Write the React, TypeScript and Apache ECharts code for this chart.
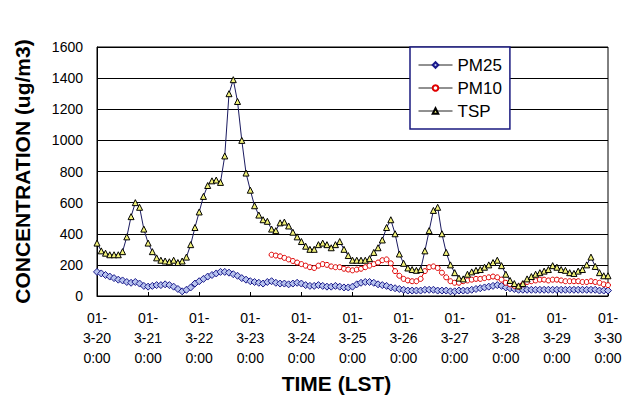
import React, { useEffect, useRef } from "react";
import * as echarts from "echarts";

// Sampling step of the series (hours), starting at 01-3-20 0:00
const HOUR_STEP = 2;
const DAY_LABELS = ["3-20", "3-21", "3-22", "3-23", "3-24", "3-25", "3-26", "3-27", "3-28", "3-29", "3-30"];
const Y_TICKS = [0, 200, 400, 600, 800, 1000, 1200, 1400, 1600];

const PM25 = [
  155, 145, 135, 125, 115, 105, 100, 90, 85, 90, 80, 65,
  60, 65, 70, 70, 75, 70, 60, 45, 30, 40, 55, 80,
  95, 110, 125, 135, 145, 155, 155, 150, 140, 130, 115, 105,
  95, 90, 85, 80, 90, 95, 85, 80, 80, 75, 80, 85,
  80, 70, 65, 65, 70, 65, 60, 60, 65, 60, 55, 55,
  60, 75, 85, 90, 90, 85, 75, 70, 65, 55, 50, 45,
  40, 35, 35, 35, 35, 40, 40, 40, 35, 35, 35, 30,
  30, 35, 35, 35, 40, 45, 50, 55, 60, 65, 70, 65,
  55, 50, 45, 40, 40, 40, 40, 40, 40, 40, 40, 40,
  40, 40, 40, 40, 40, 40, 40, 40, 40, 40, 35, 35,
  35,
];

const PM10: (number | null)[] = [
  null, null, null, null, null, null, null, null, null, null, null, null,
  null, null, null, null, null, null, null, null, null, null, null, null,
  null, null, null, null, null, null, null, null, null, null, null, null,
  null, null, null, null, null, 265, 260, 255, 245, 235, 225, 215,
  205, 195, 185, 180, 195, 205, 200, 190, 185, 185, 175, 170,
  165, 170, 175, 185, 195, 205, 215, 230, 235, 210, 160, 130,
  110, 100, 95, 95, 110, 160, 185, 190, 180, 150, 120, 95,
  85, 85, 95, 100, 105, 110, 110, 115, 120, 125, 120, 105,
  85, 75, 65, 60, 75, 90, 95, 100, 105, 105, 100, 105,
  105, 100, 95, 95, 95, 95, 90, 90, 95, 90, 85, 75,
  70,
];

const TSP = [
  340, 290, 275, 265, 265, 265, 285, 380, 510, 600, 570, 430,
  340, 285, 245, 230, 225, 220, 230, 215, 225, 250, 330, 440,
  540, 640, 710, 740, 745, 730, 900, 1300, 1390, 1250, 1000, 790,
  680, 580, 520, 490, 480, 430, 420, 470, 475, 450, 410, 380,
  350, 320, 300, 300, 330, 340, 330, 310, 330, 350, 300, 260,
  230, 230, 230, 230, 240, 280, 310, 360, 440, 490, 400, 270,
  210, 180, 170, 165, 170, 290, 420, 550, 570, 400, 280, 200,
  150, 115, 110, 140, 155, 165, 170, 185, 200, 215, 230, 195,
  140, 100, 80, 65, 80, 110, 125, 140, 150, 160, 170, 195,
  185, 170, 165, 150, 145, 160, 170, 200, 250, 190, 150, 130,
  130,
];

const toPairs = (arr: (number | null)[]) => arr.map((v, i) => [i * HOUR_STEP, v]);

const FONT = "'Liberation Sans', Arial, sans-serif";

export default function App() {
  const ref = useRef<HTMLDivElement>(null);
  useEffect(() => {
    if (!ref.current) return;
    const chart = echarts.init(ref.current, null, { renderer: "svg" });
    chart.setOption({
      animation: false,
      backgroundColor: "#ffffff",
      textStyle: { fontFamily: FONT },
      grid: {
        left: 97,
        right: 21,
        top: 47,
        bottom: 109,
        show: true,
        borderColor: "#000",
        borderWidth: 1,
        backgroundColor: "#fff",
      },
      legend: {
        orient: "vertical",
        left: 410,
        top: 47,
        padding: [9, 8, 9, 8],
        itemGap: 5,
        itemWidth: 34,
        itemHeight: 7,
        backgroundColor: "#fff",
        borderColor: "#1a1a80",
        borderWidth: 1.5,
        borderRadius: 0,
        lineStyle: { color: "#222", width: 1 },
        textStyle: { fontFamily: FONT, fontSize: 17, color: "#000", lineHeight: 18 },
        data: ["PM25", "PM10", "TSP"],
      },
      xAxis: {
        type: "value",
        min: 0,
        max: 240,
        interval: 24,
        name: "TIME (LST)",
        nameLocation: "middle",
        nameGap: 75,
        nameTextStyle: { fontSize: 21, fontWeight: "bold", color: "#000", padding: [0, 32, 0, 0], fontFamily: FONT },
        axisLine: { show: true, lineStyle: { color: "#000", width: 1 } },
        axisTick: { show: true, inside: true, length: 4, lineStyle: { color: "#000" } },
        splitLine: { show: false },
        axisLabel: {
          color: "#000",
          fontSize: 14,
          lineHeight: 20,
          margin: 12,
          formatter: (v: number) => {
            const idx = Math.round(v / 24);
            return DAY_LABELS[idx] !== undefined ? `01-\n${DAY_LABELS[idx]}\n0:00` : "";
          },
        },
      },
      yAxis: {
        type: "value",
        min: Y_TICKS[0],
        max: Y_TICKS[Y_TICKS.length - 1],
        interval: 200,
        name: "CONCENTRATION (ug/m3)",
        nameLocation: "middle",
        nameRotate: 90,
        nameGap: 64,
        nameTextStyle: { fontSize: 21, fontWeight: "bold", color: "#000", fontFamily: FONT },
        axisLine: { show: true, lineStyle: { color: "#000", width: 1 } },
        axisTick: { show: false },
        splitLine: { show: true, lineStyle: { color: "#000", width: 1 } },
        axisLabel: { color: "#000", fontSize: 14, margin: 14, formatter: (v: number) => String(v) },
      },
      series: [
        {
          name: "PM25",
          type: "line",
          data: toPairs(PM25),
          symbol: "diamond",
          symbolSize: 7,
          showAllSymbol: true,
          lineStyle: { color: "#1a1a8c", width: 1 },
          itemStyle: { color: "#b8c4ee", borderColor: "#1a1a8c", borderWidth: 1 },
          z: 3,
        },
        {
          name: "PM10",
          type: "line",
          data: toPairs(PM10),
          symbol: "circle",
          symbolSize: 5,
          showAllSymbol: true,
          connectNulls: false,
          lineStyle: { color: "#e00000", width: 1 },
          itemStyle: { color: "#ffffff", borderColor: "#e00000", borderWidth: 1 },
          z: 4,
        },
        {
          name: "TSP",
          type: "line",
          data: toPairs(TSP),
          symbol: "triangle",
          symbolSize: 6,
          showAllSymbol: true,
          lineStyle: { color: "#1a1a60", width: 1 },
          itemStyle: { color: "#f2f27a", borderColor: "#000", borderWidth: 1 },
          z: 5,
        },
      ],
    });
    return () => chart.dispose();
  }, []);
  return (
    <div
      ref={ref}
      style={{ position: "fixed", left: 0, top: 0, width: 629, height: 405 }}
    />
  );
}
